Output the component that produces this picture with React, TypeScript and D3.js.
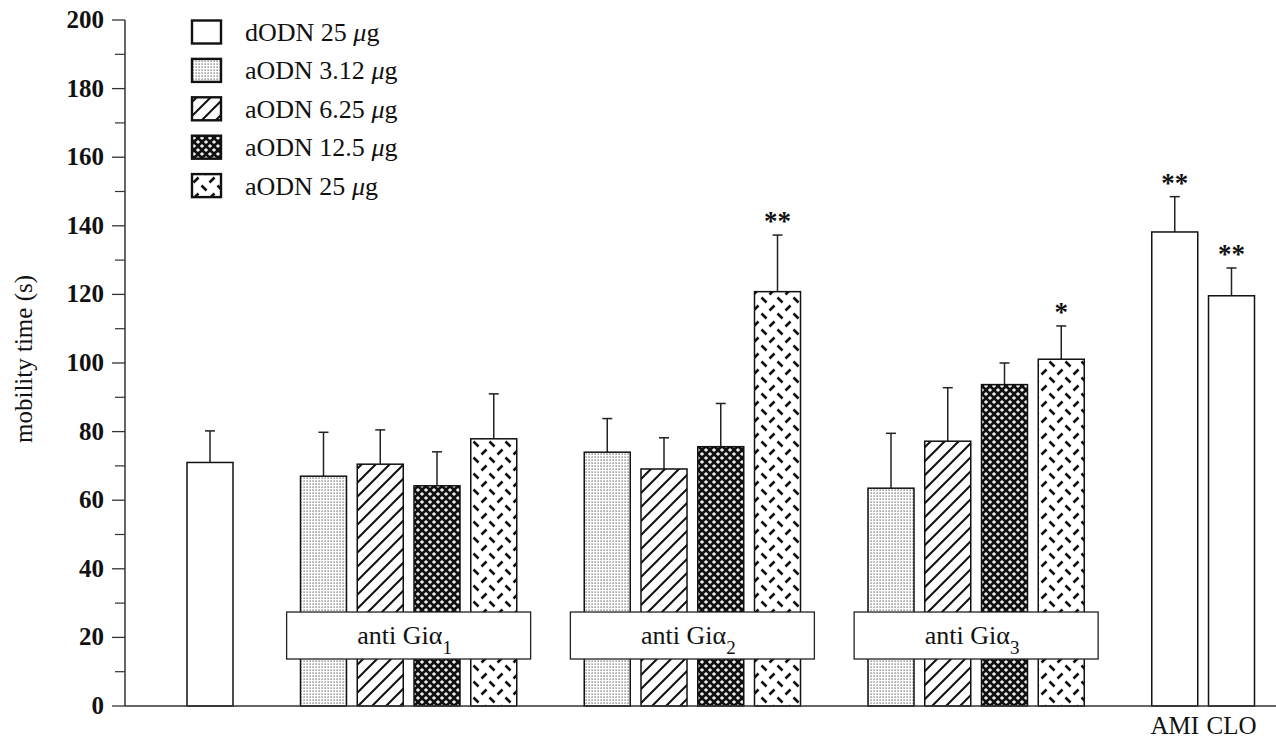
import React from "react";
import * as d3 from "d3";

// ---- data ----
const barSlots = [0, 2, 3, 4, 5, 7, 8, 9, 10, 12, 13, 14, 15, 17, 18];
const barPatterns = ["open", "dots", "hatch", "cross", "dash", "dots", "hatch", "cross", "dash", "dots", "hatch", "cross", "dash", "open", "open"];
const barMeans = [71, 67, 70.5, 64.2, 77.9, 74, 69.1, 75.6, 120.8, 63.5, 77.2, 93.7, 101.1, 138.2, 119.6];
const barErrTop = [80.2, 79.8, 80.5, 74.1, 91, 83.8, 78.2, 88.2, 137.3, 79.5, 92.8, 100, 110.8, 148.5, 127.7];
const barStars = ["", "", "", "", "", "", "", "", "**", "", "", "", "*", "**", "**"];

const groupSubscripts = ["1", "2", "3"];
const groupCenterSlots = [3.5, 8.5, 13.5];

const drugLabels = ["AMI", "CLO"];
const drugSlots = [17, 18];

const legendPrefixes = ["dODN 25 ", "aODN 3.12 ", "aODN 6.25 ", "aODN 12.5 ", "aODN 25 "];
const legendPatterns = ["open", "dots", "hatch", "cross", "dash"];

const yMajorTicks = [0, 20, 40, 60, 80, 100, 120, 140, 160, 180, 200];
const yMinorTicks = [10, 30, 50, 70, 90, 110, 130, 150, 170, 190];

// ---- layout ----
const W = 1276;
const H = 741;
const FONT = "'Liberation Serif', 'DejaVu Serif', serif";
const y = d3.scaleLinear().domain([0, 200]).range([706, 20]);
const x = d3.scaleLinear().domain([0, 18]).range([210, 1231.5]);
const BAR_W = 46;
const AXIS_X = 125;

const fillFor = (p: string) => (p === "open" ? "#fff" : `url(#pat-${p})`);
const tStyle = { fontFamily: FONT };

export default function App() {
  const [y0] = y.range();
  return (
    <svg
      width={W}
      height={H}
      style={{ position: "absolute", left: 0, top: 0, background: "#fff", fontFamily: FONT }}
    >
      <defs>
        <pattern id="pat-dots" patternUnits="userSpaceOnUse" width="3" height="3">
          <rect width="3" height="3" fill="#fff" />
          <rect x="0.5" y="0.5" width="1.2" height="1.2" fill="#555" />
        </pattern>
        <pattern id="pat-hatch" patternUnits="userSpaceOnUse" width="14" height="14">
          <rect width="14" height="14" fill="#fff" />
          <path d="M-2,2 L2,-2 M0,14 L14,0 M12,16 L16,12" stroke="#111" strokeWidth="2" />
        </pattern>
        <pattern id="pat-cross" patternUnits="userSpaceOnUse" width="8" height="8">
          <rect width="8" height="8" fill="#111" />
          <path d="M2,0.2 V3.8 M0.2,2 H3.8 M6,4.2 V7.8 M4.2,6 H7.8" stroke="#fff" strokeWidth="1.3" />
        </pattern>
        <pattern id="pat-dash" patternUnits="userSpaceOnUse" width="16" height="16">
          <rect width="16" height="16" fill="#fff" />
          <path d="M1.5,6.5 L6.5,1.5 M9.5,9.5 L14.5,14.5" stroke="#111" strokeWidth="2.6" strokeLinecap="butt" />
        </pattern>
      </defs>

      {/* bars */}
      {barMeans.map((m, i) => {
        const cx = x(barSlots[i]);
        return (
          <g key={i}>
            <line x1={cx} x2={cx} y1={y(m)} y2={y(barErrTop[i])} stroke="#222" strokeWidth={1.5} />
            <line x1={cx - 5} x2={cx + 5} y1={y(barErrTop[i])} y2={y(barErrTop[i])} stroke="#222" strokeWidth={1.5} />
            <rect
              x={cx - BAR_W / 2}
              y={y(m)}
              width={BAR_W}
              height={y0 - y(m)}
              fill={fillFor(barPatterns[i])}
              stroke="#111"
              strokeWidth={1.5}
            />
            {barStars[i] && (
              <text x={cx} y={y(barErrTop[i]) - 5} textAnchor="middle" fontSize={27} fontWeight="bold" fill="#111" style={tStyle}>
                {barStars[i]}
              </text>
            )}
          </g>
        );
      })}

      {/* group label boxes */}
      {groupSubscripts.map((s, i) => {
        const cx = x(groupCenterSlots[i]);
        const bw = 244;
        return (
          <g key={s}>
            <rect x={cx - bw / 2} y={y(27.4)} width={bw} height={y(13.7) - y(27.4)} fill="#fff" stroke="#222" strokeWidth={1.3} />
            <text x={cx - 4} y={y(20.5) + 8} textAnchor="middle" fontSize={26} fill="#111" style={tStyle}>
              anti Giα
              <tspan fontSize={19} dy={10}>{s}</tspan>
            </text>
          </g>
        );
      })}

      {/* axes */}
      <line x1={AXIS_X} x2={AXIS_X} y1={y(200)} y2={y0} stroke="#333" strokeWidth={1.5} />
      <line x1={AXIS_X} x2={W} y1={y0} y2={y0} stroke="#333" strokeWidth={1.5} />
      {yMajorTicks.map((t) => (
        <g key={t}>
          <line x1={AXIS_X - 13} x2={AXIS_X} y1={y(t)} y2={y(t)} stroke="#333" strokeWidth={1.3} />
          <text x={104} y={y(t) + 8} textAnchor="end" fontSize={25} fontWeight="bold" fill="#111" style={tStyle}>
            {t}
          </text>
        </g>
      ))}
      {yMinorTicks.map((t) => (
        <line key={t} x1={AXIS_X - 10} x2={AXIS_X} y1={y(t)} y2={y(t)} stroke="#333" strokeWidth={1.2} />
      ))}
      <text transform={`translate(32,${y(100) - 4}) rotate(-90)`} textAnchor="middle" fontSize={25} fill="#111" style={tStyle}>
        mobility time (s)
      </text>

      {drugLabels.map((d, i) => (
        <text key={d} x={x(drugSlots[i])} y={734} textAnchor="middle" fontSize={25} fill="#111" style={tStyle}>
          {d}
        </text>
      ))}

      {/* legend */}
      {legendPrefixes.map((l, i) => {
        const cy = 32 + i * 38.4;
        return (
          <g key={l}>
            <rect x={192} y={cy - 11.5} width={29} height={23} fill={fillFor(legendPatterns[i])} stroke="#111" strokeWidth={2.4} />
            <text x={245} y={cy + 9} fontSize={26} fill="#111" style={tStyle}>
              {l}
              <tspan fontStyle="italic">μ</tspan>g
            </text>
          </g>
        );
      })}
    </svg>
  );
}
